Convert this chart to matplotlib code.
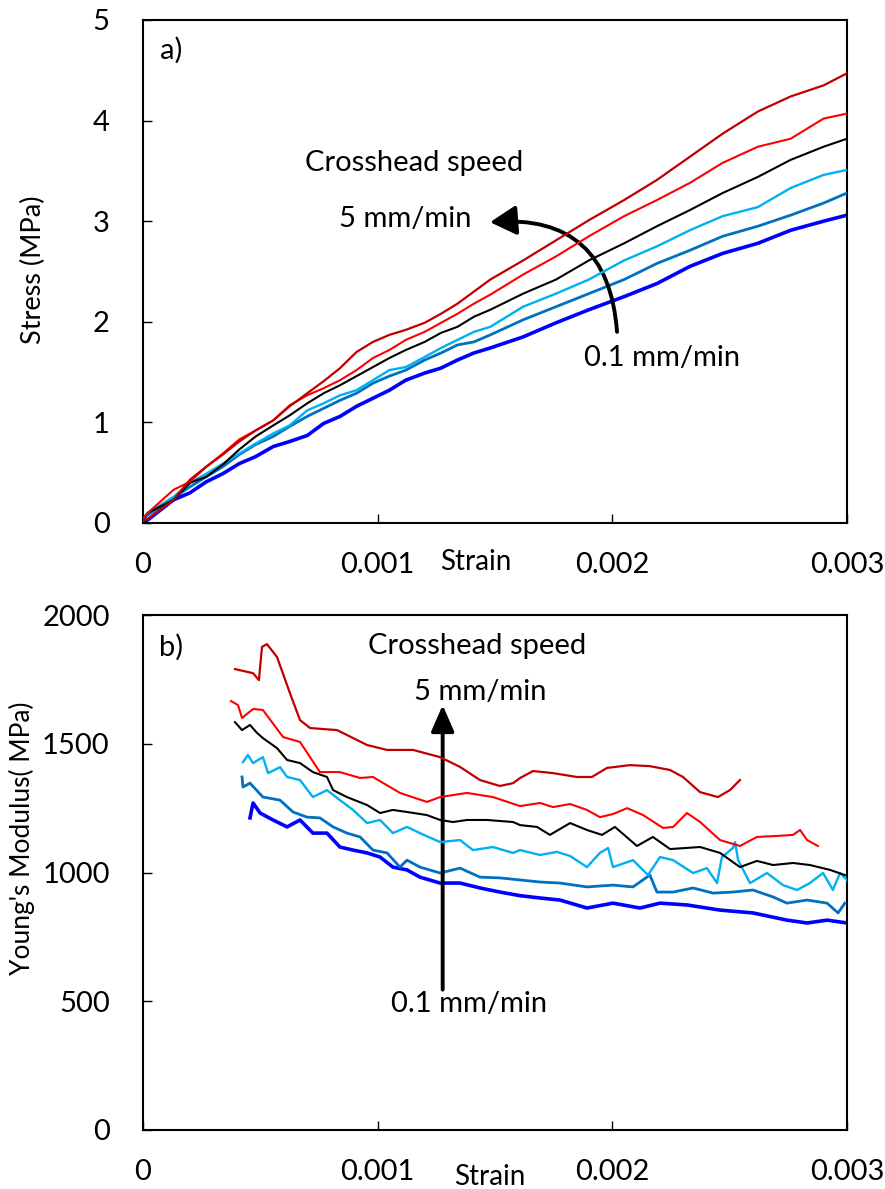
import matplotlib
matplotlib.use("Agg")
import matplotlib.pyplot as plt

plt.rcParams['font.family'] = ['Lato', 'DejaVu Sans']

# ---------------- Panel a) data: stress-strain ----------------
strain_a = [0, 0.00002, 0.00013, 0.0002, 0.00027, 0.00034, 0.00041, 0.00048, 0.000555,
            0.000625, 0.0007, 0.00077, 0.00084, 0.00091, 0.00098, 0.00105, 0.00112, 0.0012,
            0.00127, 0.00134, 0.00141, 0.00148, 0.00162, 0.00176, 0.0019, 0.00205, 0.00219,
            0.00233, 0.00247, 0.00262, 0.00276, 0.0029, 0.003]
stress_darkred = [0.03, 0.04, 0.23, 0.43, 0.56, 0.68, 0.81, 0.92, 1.02, 1.16, 1.29, 1.41,
                  1.54, 1.70, 1.80, 1.87, 1.92, 1.99, 2.08, 2.18, 2.30, 2.42, 2.61, 2.81,
                  3.01, 3.21, 3.41, 3.64, 3.87, 4.09, 4.24, 4.35, 4.47]
stress_red = [0.04, 0.10, 0.33, 0.41, 0.56, 0.69, 0.83, 0.92, 1.02, 1.17, 1.27, 1.34,
              1.42, 1.52, 1.64, 1.72, 1.82, 1.90, 1.99, 2.08, 2.18, 2.27, 2.47, 2.65,
              2.85, 3.05, 3.21, 3.38, 3.58, 3.74, 3.82, 4.02, 4.07]
stress_black = [0.04, 0.10, 0.23, 0.40, 0.46, 0.58, 0.73, 0.86, 0.97, 1.07, 1.19, 1.29,
                1.37, 1.46, 1.55, 1.64, 1.72, 1.80, 1.89, 1.95, 2.05, 2.12, 2.28, 2.42,
                2.61, 2.78, 2.95, 3.11, 3.28, 3.44, 3.61, 3.74, 3.82]
stress_lightblue = [0.03, 0.10, 0.26, 0.40, 0.49, 0.59, 0.69, 0.79, 0.89, 0.97, 1.12, 1.19,
                    1.27, 1.32, 1.42, 1.52, 1.55, 1.65, 1.74, 1.82, 1.90, 1.95, 2.15, 2.28,
                    2.42, 2.61, 2.75, 2.91, 3.05, 3.14, 3.33, 3.46, 3.51]
stress_medblue = [0.03, 0.08, 0.25, 0.36, 0.46, 0.56, 0.68, 0.78, 0.86, 0.96, 1.06, 1.14,
                  1.22, 1.29, 1.39, 1.46, 1.52, 1.62, 1.69, 1.77, 1.80, 1.87, 2.02, 2.15,
                  2.28, 2.42, 2.58, 2.71, 2.85, 2.95, 3.06, 3.18, 3.28]
stress_blue = [0.02, 0.03, 0.23, 0.30, 0.41, 0.49, 0.59, 0.66, 0.76, 0.81, 0.87, 0.99,
               1.06, 1.16, 1.24, 1.32, 1.42, 1.49, 1.54, 1.62, 1.69, 1.74, 1.85, 1.99,
               2.12, 2.25, 2.38, 2.55, 2.68, 2.78, 2.91, 3.00, 3.06]

# ---------------- Panel b) data: Young's modulus ----------------
strain_darkred = [0.000392, 0.000469, 0.000494, 0.000507, 0.000528, 0.000571, 0.000626, 0.000669,
                  0.000712, 0.000827, 0.000869, 0.000955, 0.00104, 0.001151, 0.001266, 0.001351,
                  0.001436, 0.001521, 0.001577, 0.001607, 0.001662, 0.001747, 0.001849, 0.001913,
                  0.001977, 0.002075, 0.002160, 0.002246, 0.002301, 0.002374, 0.002450, 0.002501,
                  0.002544]
E_darkred = [1790, 1774, 1747, 1876, 1887, 1837, 1697, 1592, 1561, 1553, 1534, 1495, 1476, 1476,
             1448, 1410, 1359, 1336, 1347, 1367, 1394, 1386, 1371, 1371, 1406, 1417, 1413, 1398,
             1371, 1312, 1293, 1320, 1359]

strain_red = [0.000375, 0.000405, 0.000422, 0.000469, 0.000511, 0.000597, 0.000669, 0.000754,
              0.000839, 0.000925, 0.00098, 0.001095, 0.00121, 0.001266, 0.001381, 0.001491,
              0.001607, 0.001692, 0.001747, 0.00182, 0.001892, 0.001947, 0.002003, 0.002063,
              0.002131, 0.002216, 0.002259, 0.002318, 0.002374, 0.002459, 0.002544, 0.002616,
              0.002702, 0.00277, 0.0028, 0.00283, 0.002876]
E_red = [1666, 1650, 1600, 1635, 1631, 1526, 1507, 1390, 1390, 1367, 1371, 1309, 1274, 1293,
         1309, 1293, 1258, 1270, 1254, 1266, 1243, 1215, 1227, 1250, 1223, 1173, 1177, 1231,
         1196, 1126, 1103, 1138, 1142, 1146, 1165, 1126, 1103]

strain_black = [0.000392, 0.000422, 0.000456, 0.000486, 0.000511, 0.000571, 0.000614, 0.000669,
                0.000724, 0.000784, 0.00081, 0.000869, 0.000955, 0.00101, 0.001065, 0.001125,
                0.00121, 0.001266, 0.001321, 0.001381, 0.001466, 0.001577, 0.001607, 0.001679,
                0.001734, 0.00182, 0.001892, 0.001956, 0.002011, 0.002105, 0.002173, 0.002246,
                0.002374, 0.002459, 0.002544, 0.002616, 0.002685, 0.00277, 0.002842, 0.002928,
                0.002991]
E_black = [1584, 1553, 1573, 1542, 1522, 1483, 1437, 1425, 1390, 1371, 1320, 1293, 1262, 1231,
           1243, 1235, 1223, 1204, 1196, 1204, 1204, 1196, 1184, 1177, 1146, 1192, 1165, 1146,
           1177, 1103, 1138, 1091, 1099, 1076, 1021, 1045, 1029, 1037, 1029, 1010, 990]

strain_lightblue = [0.000426, 0.000447, 0.000469, 0.000511, 0.000533, 0.000584, 0.000614, 0.000669,
                    0.000724, 0.000784, 0.000839, 0.000895, 0.000955, 0.00101, 0.001065, 0.001125,
                    0.00118, 0.001266, 0.001351, 0.001406, 0.001491, 0.001577, 0.001607, 0.001692,
                    0.001764, 0.00182, 0.001892, 0.001947, 0.001982, 0.002003, 0.002088, 0.002152,
                    0.002203, 0.002259, 0.002344, 0.002403, 0.002446, 0.002467, 0.002514, 0.002523,
                    0.002536, 0.002587, 0.002659, 0.002727, 0.002787, 0.002842, 0.002898, 0.00294,
                    0.00297, 0.003]
E_lightblue = [1429, 1456, 1425, 1448, 1386, 1409, 1371, 1359, 1293, 1320, 1281, 1243, 1192, 1204,
               1153, 1177, 1153, 1118, 1126, 1087, 1099, 1076, 1087, 1068, 1080, 1064, 1021, 1076,
               1095, 1021, 1048, 990, 1060, 1048, 998, 1017, 959, 1060, 1095, 1118, 1048, 959,
               998, 951, 932, 959, 998, 932, 998, 971]

strain_medblue = [0.000422, 0.000426, 0.000456, 0.000511, 0.000584, 0.000639, 0.000699, 0.000754,
                  0.00081, 0.000869, 0.000925, 0.00098, 0.00104, 0.001095, 0.001125, 0.00118,
                  0.001266, 0.001351, 0.001436, 0.001521, 0.001607, 0.001692, 0.001777, 0.001892,
                  0.002003, 0.002088, 0.00216, 0.00219, 0.002259, 0.002344, 0.002429, 0.002514,
                  0.002599, 0.002685, 0.002744, 0.00283, 0.002915, 0.002962, 0.002991]
E_medblue = [1371, 1332, 1347, 1293, 1281, 1235, 1215, 1212, 1177, 1153, 1138, 1087, 1076, 1021,
             1048, 1021, 998, 1017, 982, 979, 971, 963, 959, 944, 951, 944, 990, 924, 924, 940,
             920, 924, 932, 905, 881, 893, 881, 843, 881]

strain_blue = [0.000456, 0.000469, 0.000499, 0.000554, 0.000614, 0.000669, 0.000724, 0.000784,
               0.000839, 0.000895, 0.000955, 0.00101, 0.001065, 0.001125, 0.00118, 0.001266,
               0.001351, 0.001436, 0.001521, 0.001607, 0.001692, 0.001777, 0.001892, 0.002003,
               0.002118, 0.002203, 0.002318, 0.002459, 0.002599, 0.002744, 0.00283, 0.002915,
               0.003]
E_blue = [1212, 1270, 1231, 1204, 1177, 1204, 1153, 1153, 1099, 1087, 1076, 1060, 1021, 1010,
          982, 959, 959, 940, 924, 910, 901, 893, 862, 881, 862, 881, 874, 854, 843, 815, 804,
          815, 804]

x_ticks = [0, 0.001, 0.002, 0.003]
x_ticklabels = ['0', '0.001', '0.002', '0.003']
ya_ticks = [0, 1, 2, 3, 4, 5]
yb_ticks = [0, 500, 1000, 1500, 2000]

C_DARKRED = '#C00000'
C_RED = '#FF0000'
C_BLACK = '#000000'
C_LIGHTBLUE = '#00B0F0'
C_MEDBLUE = '#0070C0'
C_BLUE = '#0000FF'

FS = 21
FS_LAB = 20

fig = plt.figure(figsize=(8.85, 11.89), dpi=100)
ax1 = fig.add_axes([143 / 885, 1 - 523 / 1189, 704 / 885, 503 / 1189])
ax2 = fig.add_axes([143 / 885, 1 - 1130 / 1189, 704 / 885, 515 / 1189])


def style(ax):
    for sp in ax.spines.values():
        sp.set_linewidth(1.5)
        sp.set_color('black')
    ax.tick_params(direction='in', length=6.5, width=1.0, labelsize=FS,
                   top=False, right=False)
    ax.tick_params(axis='x', pad=21)
    ax.tick_params(axis='y', pad=24)
    ax.set_xlim(0, 0.003)
    ax.set_xticks(x_ticks)
    ax.set_xticklabels(x_ticklabels)


# ---- panel a ----
ax1.plot(strain_a, stress_blue, color=C_BLUE, lw=2.6, zorder=2)
ax1.plot(strain_a, stress_medblue, color=C_MEDBLUE, lw=2.0, zorder=3)
ax1.plot(strain_a, stress_lightblue, color=C_LIGHTBLUE, lw=1.7, zorder=4)
ax1.plot(strain_a, stress_black, color=C_BLACK, lw=1.5, zorder=5)
ax1.plot(strain_a, stress_red, color=C_RED, lw=1.5, zorder=6)
ax1.plot(strain_a, stress_darkred, color=C_DARKRED, lw=1.6, zorder=7)
style(ax1)
ax1.set_ylim(0, 5)
ax1.set_yticks(ya_ticks)
ax1.set_ylabel('Stress (MPa)', fontsize=19.5)
ax1.yaxis.set_label_coords(-0.156, 0.503)
ax1.yaxis.label.set_va('center')
ax1.set_xlabel('Strain', fontsize=FS_LAB)
ax1.xaxis.set_label_coords(0.472, -0.078)
ax1.xaxis.label.set_va('center')

ax1.text(0.040, 0.94, 'a)', transform=ax1.transAxes, fontsize=FS, ha='center', va='center')
ax1.text(0.385, 0.715, 'Crosshead speed', transform=ax1.transAxes, fontsize=FS,
         ha='center', va='center')
ax1.text(0.372, 0.604, '5 mm/min', transform=ax1.transAxes, fontsize=FS,
         ha='center', va='center')
ax1.text(0.737, 0.328, '0.1 mm/min', transform=ax1.transAxes, fontsize=FS,
         ha='center', va='center')
ax1.annotate('', xy=(0.001479, 2.99), xytext=(0.00202, 1.90),
             arrowprops=dict(arrowstyle='-|>,head_length=0.8,head_width=0.45',
                             connectionstyle='arc3,rad=0.5', color='black',
                             lw=2.8, mutation_scale=20, shrinkA=0, shrinkB=0))

# ---- panel b ----
ax2.plot(strain_blue, E_blue, color=C_BLUE, lw=2.6, zorder=2)
ax2.plot(strain_medblue, E_medblue, color=C_MEDBLUE, lw=2.0, zorder=3)
ax2.plot(strain_lightblue, E_lightblue, color=C_LIGHTBLUE, lw=1.7, zorder=4)
ax2.plot(strain_black, E_black, color=C_BLACK, lw=1.5, zorder=5)
ax2.plot(strain_red, E_red, color=C_RED, lw=1.5, zorder=6)
ax2.plot(strain_darkred, E_darkred, color=C_DARKRED, lw=1.6, zorder=7)
style(ax2)
ax2.set_ylim(0, 2000)
ax2.set_yticks(yb_ticks)
ax2.set_ylabel("Young's Modulus( MPa)", fontsize=19)
ax2.yaxis.set_label_coords(-0.172, 0.567)
ax2.yaxis.label.set_va('center')
ax2.set_xlabel('Strain', fontsize=FS_LAB)
ax2.xaxis.set_label_coords(0.493, -0.091)
ax2.xaxis.label.set_va('center')

ax2.text(0.040, 0.937, 'b)', transform=ax2.transAxes, fontsize=FS, ha='center', va='center')
ax2.text(0.474, 0.94, 'Crosshead speed', transform=ax2.transAxes, fontsize=FS,
         ha='center', va='center')
ax2.text(0.479, 0.85, '5 mm/min', transform=ax2.transAxes, fontsize=FS,
         ha='center', va='center')
ax2.text(0.463, 0.245, '0.1 mm/min', transform=ax2.transAxes, fontsize=FS,
         ha='center', va='center')
ax2.annotate('', xy=(0.001277, 1650), xytext=(0.001277, 545),
             arrowprops=dict(arrowstyle='-|>,head_length=0.8,head_width=0.35',
                             color='black', lw=2.8, mutation_scale=20,
                             shrinkA=0, shrinkB=0))

fig.savefig('out.png', dpi=100)
